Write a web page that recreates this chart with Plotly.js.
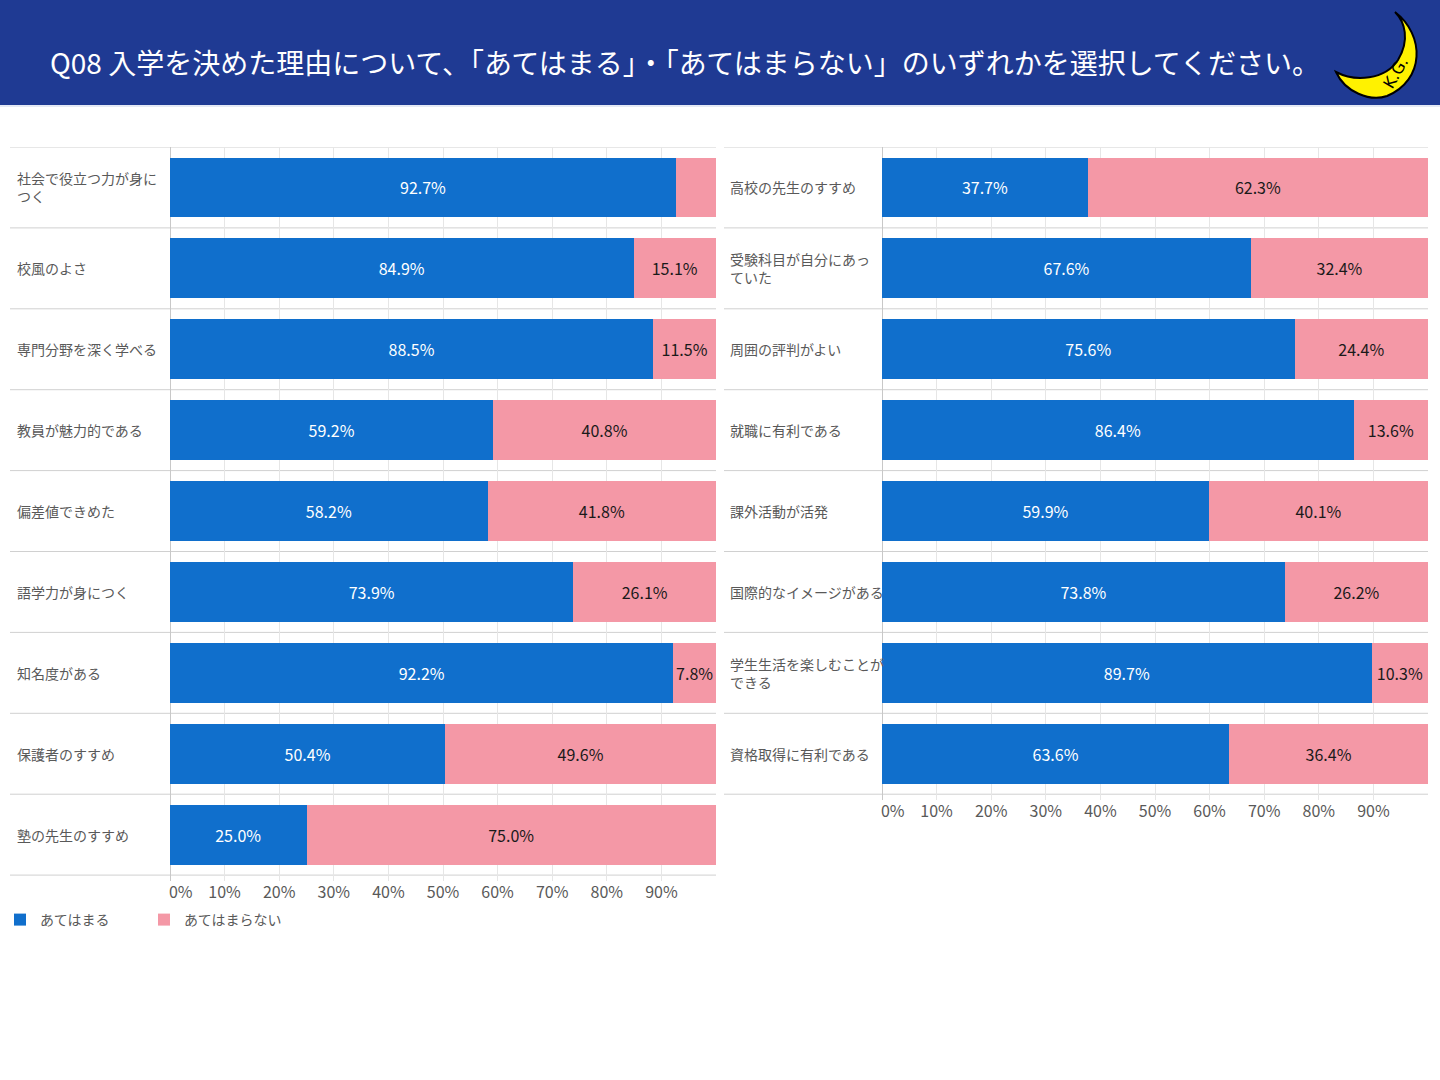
<!DOCTYPE html>
<html>
<head>
<meta charset="utf-8">
<script src="https://cdn.plot.ly/plotly-3.0.1.min.js"></script>
<style>html,body{margin:0;padding:0;background:#fff;}#chart{width:1440px;height:1080px;}</style>
</head>
<body>
<div id="chart"></div>
<script>
// ---------- data ----------
const titleText = 'Q08 入学を決めた理由について、「あてはまる」・「あてはまらない」のいずれかを選択してください。';
const seriesNames = ['あてはまる', 'あてはまらない'];

const leftCategories = ['社会で役立つ力が身につく', '校風のよさ', '専門分野を深く学べる', '教員が魅力的である', '偏差値できめた', '語学力が身につく', '知名度がある', '保護者のすすめ', '塾の先生のすすめ'];
const leftLabels = ['社会で役立つ力が身に<br>つく', '校風のよさ', '専門分野を深く学べる', '教員が魅力的である', '偏差値できめた', '語学力が身につく', '知名度がある', '保護者のすすめ', '塾の先生のすすめ'];
const leftYes = [92.7, 84.9, 88.5, 59.2, 58.2, 73.9, 92.2, 50.4, 25.0];
const leftNo = [7.3, 15.1, 11.5, 40.8, 41.8, 26.1, 7.8, 49.6, 75.0];
const leftNoHiddenLabel = ['社会で役立つ力が身につく'];

const rightCategories = ['高校の先生のすすめ', '受験科目が自分にあっていた', '周囲の評判がよい', '就職に有利である', '課外活動が活発', '国際的なイメージがある', '学生生活を楽しむことができる', '資格取得に有利である'];
const rightLabels = ['高校の先生のすすめ', '受験科目が自分にあっ<br>ていた', '周囲の評判がよい', '就職に有利である', '課外活動が活発', '国際的なイメージがある', '学生生活を楽しむことが<br>できる', '資格取得に有利である'];
const rightYes = [37.7, 67.6, 75.6, 86.4, 59.9, 73.8, 89.7, 63.6];
const rightNo = [62.3, 32.4, 24.4, 13.6, 40.1, 26.2, 10.3, 36.4];

const xTickVals = [0, 10, 20, 30, 40, 50, 60, 70, 80, 90];
const xTickText = ['\u00a0\u00a0\u00a0\u00a0\u00a0\u00a00%', '10%', '20%', '30%', '40%', '50%', '60%', '70%', '80%', '90%'];

// ---------- styling ----------
const W = 1440, H = 1080;
const BLUE = '#106FCC', PINK = '#F498A6', HEADER = '#1F3A93';
const FONT = '"Noto Sans CJK JP", "Noto Sans", sans-serif';
const GRAY = '#595959';
const px = x => x / W;
const py = y => 1 - y / H;
const EXT = 0.07;
const ROW_TOP = 147;
const ROW_H = 80.9;

const fmt = v => v.toFixed(1) + '%';

function barTrace(cats, vals, color, txtColor, name, xa, ya, show, hidden) {
  return {
    type: 'bar', orientation: 'h', y: cats, x: vals, name: name,
    xaxis: xa, yaxis: ya, showlegend: show, legendgroup: name,
    marker: {color: color, line: {width: 0}},
    text: vals.map((v, i) => (hidden && hidden.includes(cats[i])) ? '' : fmt(v)),
    textposition: 'inside', insidetextanchor: 'middle', textangle: 0,
    constraintext: 'none',
    textfont: {color: txtColor, size: 16, family: FONT},
    hoverinfo: 'skip'
  };
}

const data = [
  barTrace(leftCategories, leftYes, BLUE, '#FFFFFF', seriesNames[0], 'x', 'y', true),
  barTrace(leftCategories, leftNo, PINK, '#1A1A1A', seriesNames[1], 'x', 'y', true, leftNoHiddenLabel),
  barTrace(rightCategories, rightYes, BLUE, '#FFFFFF', seriesNames[0], 'x2', 'y2', false),
  barTrace(rightCategories, rightNo, PINK, '#1A1A1A', seriesNames[1], 'x2', 'y2', false)
];

function yDomain(n) {
  const bottom = ROW_TOP + (n + EXT) * ROW_H;
  return [py(bottom), py(ROW_TOP)];
}
function yAxis(cats) {
  return {
    type: 'category', categoryorder: 'array', categoryarray: cats,
    range: [cats.length - 0.5 + EXT, -0.5], domain: yDomain(cats.length),
    showticklabels: false, showgrid: false, zeroline: false, showline: false, ticks: '', fixedrange: true
  };
}
function xAxis(x0, x1, anchor) {
  return {
    domain: [px(x0), px(x1)], anchor: anchor, range: [0, 100],
    tickvals: xTickVals, ticktext: xTickText, ticks: '',
    showgrid: true, gridcolor: '#E6E6E6', gridwidth: 1,
    zeroline: true, zerolinecolor: '#C8C8C8', zerolinewidth: 1,
    showline: false, tickfont: {size: 16, color: GRAY, family: FONT}, fixedrange: true
  };
}

const shapes = [];
const annotations = [];

// header band
shapes.push({type: 'rect', xref: 'paper', yref: 'paper', x0: 0, x1: 1, y0: py(105), y1: 1, fillcolor: HEADER, line: {width: 0}, layer: 'below'});
shapes.push({type: 'line', xref: 'paper', yref: 'paper', x0: 0, x1: 1, y0: py(106), y1: py(106), line: {color: '#C9D3EA', width: 1}});
annotations.push({xref: 'paper', yref: 'paper', x: px(48), y: py(62), xanchor: 'left', yanchor: 'middle', text: titleText, showarrow: false, font: {size: 28, color: '#FFFFFF', family: FONT}});

// moon logo
const moonPts = [['M', 1395, 12], ['C', 1425, 35, 1425, 80, 1387, 96], ['C', 1370, 102, 1345, 92, 1336, 72], ['C', 1355, 82, 1385, 80, 1398, 60], ['C', 1410, 40, 1405, 22, 1395, 12]];
const moonPath = moonPts.map(p => {
  const coords = [];
  for (let i = 1; i < p.length; i += 2) coords.push(px(p[i]) + ',' + py(p[i + 1]));
  return p[0] + coords.join(' ');
}).join(' ') + ' Z';
shapes.push({type: 'path', xref: 'paper', yref: 'paper', path: moonPath, fillcolor: '#FFF200', line: {color: '#000000', width: 2}});
annotations.push({xref: 'paper', yref: 'paper', x: px(1395), y: py(73), text: 'K.G.', showarrow: false, textangle: -60, font: {size: 16, color: '#000000', family: 'DejaVu Sans'}, xanchor: 'center', yanchor: 'middle'});

// separators and row labels
function panel(cats, labels, ya, lineX0, lineX1, labelX) {
  for (let i = 0; i <= cats.length; i++) {
    shapes.push({type: 'line', xref: 'paper', yref: ya, x0: px(lineX0), x1: px(lineX1), y0: i - 0.5, y1: i - 0.5, line: {color: '#D0D0D0', width: 1}, layer: 'below'});
  }
  cats.forEach((c, i) => {
    annotations.push({xref: 'paper', yref: ya, x: px(labelX), y: c, xanchor: 'left', yanchor: 'middle', align: 'left', text: labels[i], showarrow: false, font: {size: 14, color: GRAY, family: FONT}});
  });
}
panel(leftCategories, leftLabels, 'y', 10, 716, 15);
panel(rightCategories, rightLabels, 'y2', 724, 1428, 728);

const layout = {
  width: W, height: H, margin: {l: 0, r: 0, t: 0, b: 0},
  paper_bgcolor: '#FFFFFF', plot_bgcolor: 'rgba(0,0,0,0)',
  font: {family: FONT, color: GRAY},
  barmode: 'stack', bargap: 0.26,
  xaxis: xAxis(170, 716, 'y'), yaxis: yAxis(leftCategories),
  xaxis2: xAxis(882, 1428, 'y2'), yaxis2: yAxis(rightCategories),
  showlegend: true,
  legend: {orientation: 'h', x: px(0), y: py(904), xanchor: 'left', yanchor: 'top', font: {size: 14, color: GRAY, family: FONT}, entrywidth: 99, entrywidthmode: 'pixels', traceorder: 'normal', bgcolor: 'rgba(0,0,0,0)'},
  shapes: shapes, annotations: annotations
};

Plotly.newPlot('chart', data, layout, {displayModeBar: false, staticPlot: true});
</script>
</body>
</html>
